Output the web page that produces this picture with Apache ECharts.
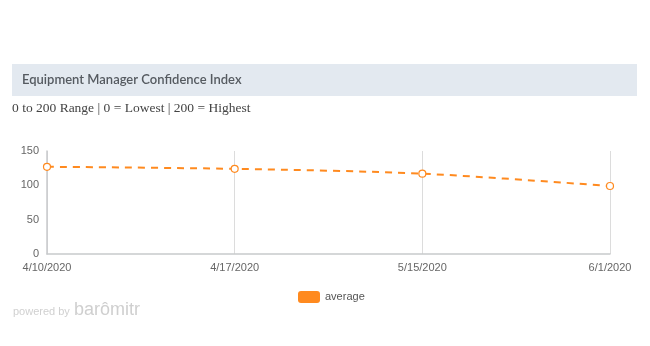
<!DOCTYPE html>
<html>
<head>
<meta charset="utf-8">
<script src="https://cdn.jsdelivr.net/npm/echarts@6/dist/echarts.min.js"></script>
<style>
  html, body { margin: 0; padding: 0; background: #fff; }
  #chart { width: 650px; height: 346px; }
</style>
</head>
<body>
<div id="chart"></div>
<script>
// Survey dates and the average confidence index on each date
const dates = ['4/10/2020', '4/17/2020', '5/15/2020', '6/1/2020'];
const averageValues = [127, 124, 117, 99];
const yTicks = [0, 50, 100, 150];

const lineColor = '#ff8a1f';
const chart = echarts.init(document.getElementById('chart'));

chart.setOption({
  animation: false,
  backgroundColor: '#ffffff',
  graphic: [
    { type: 'rect', shape: { x: 12, y: 64, width: 625, height: 32 }, style: { fill: '#e3e9f0' } },
    { type: 'text', left: 22, top: 73, style: { text: 'Equipment Manager Confidence Index', font: '600 13px Lato, "Open Sans", sans-serif', fill: '#555a60' } },
    { type: 'text', left: 12, top: 101, style: { text: '0 to 200 Range | 0 = Lowest | 200 = Highest', font: '13.5px "Liberation Serif", "DejaVu Serif", serif', fill: '#444' } },
    { type: 'text', left: 13, top: 306, style: { text: 'powered by', font: '11px "Liberation Sans", Arial, sans-serif', fill: '#d0d0d0' } },
    { type: 'text', left: 74, top: 301, style: { text: 'barômitr', font: '18px "Liberation Sans", Arial, sans-serif', fill: '#cfcfcf' } }
  ],
  grid: { left: 47, right: 40, top: 151, bottom: 92, containLabel: false },
  legend: {
    data: ['average'],
    left: 293,
    top: 286,
    itemWidth: 22,
    itemHeight: 12,
    itemGap: 5,
    icon: 'roundRect',
    itemStyle: { color: lineColor, borderWidth: 0 },
    textStyle: { color: '#555', fontSize: 11, fontFamily: '"Liberation Sans", Arial, sans-serif' }
  },
  xAxis: {
    type: 'category',
    data: dates,
    boundaryGap: false,
    axisLine: { lineStyle: { color: '#c8cacc', width: 1.5 } },
    axisTick: { show: false },
    axisLabel: { color: '#666', fontSize: 11, margin: 8, fontFamily: '"Liberation Sans", Arial, sans-serif' },
    splitLine: { show: true, lineStyle: { color: '#dcdcdc', width: 1 } }
  },
  yAxis: {
    type: 'value',
    min: 0,
    max: 150,
    interval: 50,
    axisLine: { show: true, lineStyle: { color: '#c8cacc', width: 1.5 } },
    axisTick: { show: false },
    axisLabel: { color: '#666', fontSize: 11, margin: 8, fontFamily: '"Liberation Sans", Arial, sans-serif',
      formatter: v => yTicks.includes(v) ? String(v) : '' },
    splitLine: { show: false }
  },
  series: [{
    name: 'average',
    type: 'line',
    data: averageValues,
    smooth: 0.3,
    symbol: 'circle',
    symbolSize: 7,
    itemStyle: { color: '#ffffff', borderColor: lineColor, borderWidth: 1.2 },
    lineStyle: { color: lineColor, width: 2, type: [7, 6] },
    color: lineColor
  }]
});
</script>
</body>
</html>
